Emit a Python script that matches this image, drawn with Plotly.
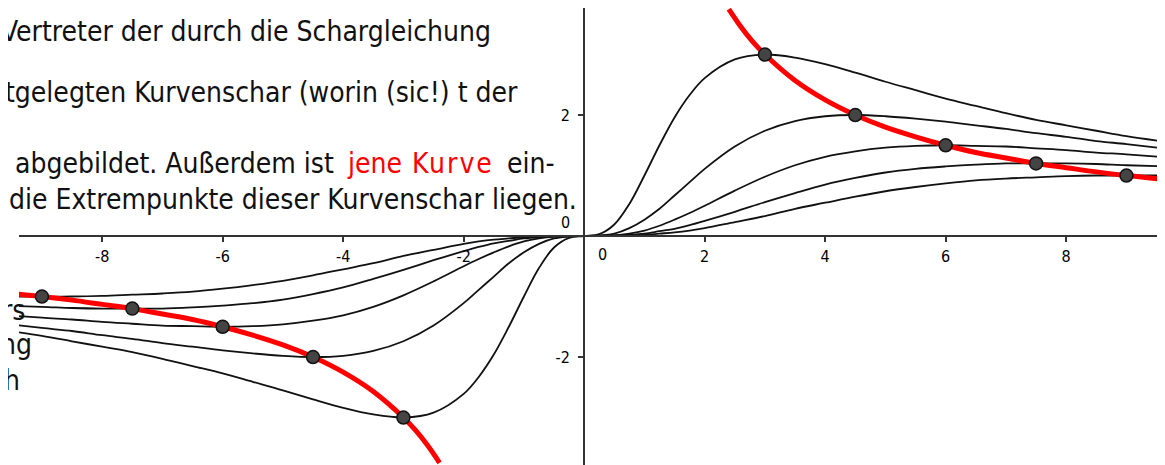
import plotly.graph_objects as go

# the page body keeps an 8 px margin, so the figure is drawn 8 px smaller
# and every page position below is shifted back by that offset
PAGE_OFF = 8
W, H = 1165 - PAGE_OFF, 465 - PAGE_OFF
ML = 19 - PAGE_OFF  # the drawing starts a little right of the page edge

# x positions shared by the five curves of the family
X = [-9.7, -9, -8.5, -8, -7.5, -7, -6.5, -6, -5.5, -5, -4.5, -4, -3.5, -3, -2.5, -2,
     -1.75, -1.5, -1.25, -1, -0.75, -0.5, -0.25, 0, 0.25, 0.5, 0.75, 1, 1.25, 1.5,
     1.75, 2, 2.5, 3, 3.5, 4, 4.5, 5, 5.5, 6, 6.5, 7, 7.5, 8, 8.5, 9, 9.7]

Y_T3 = [-1.55, -1.65, -1.74, -1.83, -1.92, -2.03, -2.15, -2.27, -2.41, -2.55, -2.70, -2.84,
        -2.95, -3.00, -2.92, -2.61, -2.33, -1.96, -1.50, -1.00, -0.53, -0.19, -0.03, 0,
        0.03, 0.19, 0.53, 1.00, 1.50, 1.96, 2.33, 2.61, 2.92, 3.00, 2.95, 2.84, 2.70,
        2.55, 2.41, 2.27, 2.15, 2.03, 1.92, 1.83, 1.74, 1.65, 1.55]
Y_T45 = [-1.44, -1.52, -1.57, -1.64, -1.70, -1.77, -1.83, -1.89, -1.94, -1.98, -2.00, -1.98,
         -1.90, -1.74, -1.48, -1.11, -0.89, -0.67, -0.45, -0.27, -0.13, -0.04, -0.01, 0,
         0.01, 0.04, 0.13, 0.27, 0.45, 0.67, 0.89, 1.11, 1.48, 1.74, 1.90, 1.98, 2.00,
         1.98, 1.94, 1.89, 1.83, 1.77, 1.70, 1.64, 1.57, 1.52, 1.44]
Y_T6 = [-1.30, -1.35, -1.38, -1.42, -1.45, -1.48, -1.49, -1.50, -1.49, -1.46, -1.40, -1.31,
        -1.17, -0.98, -0.75, -0.50, -0.38, -0.27, -0.17, -0.09, -0.04, -0.01, 0.00, 0,
        0.00, 0.01, 0.04, 0.09, 0.17, 0.27, 0.38, 0.50, 0.75, 0.98, 1.17, 1.31, 1.40,
        1.46, 1.49, 1.50, 1.49, 1.48, 1.45, 1.42, 1.38, 1.35, 1.30]
Y_T75 = [-1.15, -1.17, -1.19, -1.20, -1.20, -1.20, -1.18, -1.15, -1.11, -1.05, -0.96, -0.85,
         -0.71, -0.56, -0.40, -0.25, -0.18, -0.12, -0.08, -0.04, -0.02, -0.01, 0.00, 0,
         0.00, 0.01, 0.02, 0.04, 0.08, 0.12, 0.18, 0.25, 0.40, 0.56, 0.71, 0.85, 0.96,
         1.05, 1.11, 1.15, 1.18, 1.20, 1.20, 1.20, 1.19, 1.17, 1.15]
Y_T9 = [-1.00, -1.00, -1.00, -0.99, -0.97, -0.95, -0.92, -0.87, -0.81, -0.74, -0.65, -0.55,
        -0.45, -0.33, -0.23, -0.13, -0.09, -0.06, -0.04, -0.02, -0.01, 0.00, 0.00, 0,
        0.00, 0.00, 0.01, 0.02, 0.04, 0.06, 0.09, 0.13, 0.23, 0.33, 0.45, 0.55, 0.65,
        0.74, 0.81, 0.87, 0.92, 0.95, 0.97, 0.99, 1.00, 1.00, 1.00]
FAMILY = [Y_T3, Y_T45, Y_T6, Y_T75, Y_T9]

# curve through the extreme points (two branches)
RED_X = [-9.7, -9, -8.5, -8, -7.5, -7, -6.5, -6, -5.5, -5, -4.5, -4, -3.5, -3, -2.8, -2.6, -2.4,
         None, 2.4, 2.6, 2.8, 3, 3.5, 4, 4.5, 5, 5.5, 6, 6.5, 7, 7.5, 8, 8.5, 9, 9.7]
RED_Y = [-0.93, -1.00, -1.06, -1.13, -1.20, -1.29, -1.38, -1.50, -1.64, -1.80, -2.00, -2.25,
         -2.57, -3.00, -3.21, -3.46, -3.75,
         None, 3.75, 3.46, 3.21, 3.00, 2.57, 2.25, 2.00, 1.80, 1.64, 1.50, 1.38, 1.29, 1.20,
         1.13, 1.06, 1.00, 0.93]

EXT_X = [-9, -7.5, -6, -4.5, -3, 3, 4.5, 6, 7.5, 9]
EXT_Y = [-1, -1.2, -1.5, -2, -3, 3, 2, 1.5, 1.2, 1]

X_TICKS = [-8, -6, -4, -2, 2, 4, 6, 8]
X_TICKTEXT = ["-8", "-6", "-4", "-2", "2", "4", "6", "8"]
Y_TICKS = [-2, 2]
Y_TICKTEXT = ["-2", "2"]
X_RANGE = [-9.38, 9.64]
Y_RANGE = [-3.785, 3.769]

RED = "#ff0000"
INK = "#111111"
TEXT_FONT = "DejaVu Sans Condensed, Liberation Sans, Arial, sans-serif"

# text of the scanned page lying under the plot: (text, page x, page y, anchor, colour)
PAGE_TEXT = [
    ("Vertreter der durch die Schargleichung", -1, 32, "left", INK),
    ("tgelegten Kurvenschar (worin (sic!) t der", 3, 93, "left", INK),
    ("abgebildet. Außerdem ist", 13, 164, "left", INK),
    ("jene", 345, 164, "left", RED),
    ("<span style='letter-spacing:2px'>Kurve</span>", 410, 164, "left", RED),
    ("ein-", 557, 164, "right", INK),
    ("die Extrempunkte dieser Kurvenschar liegen.", 7, 199, "left", INK),
    ("rs", 27, 310, "right", INK),
    ("ng", 34, 344, "right", INK),
    ("h", 22, 380, "right", INK),
]


def page_to_paper(px, py):
    fx, fy = px - PAGE_OFF, py - PAGE_OFF
    return (fx - ML) / (W - ML), 1 - fy / H


fig = go.Figure()

for ys in FAMILY:
    fig.add_trace(go.Scatter(
        x=X, y=ys, mode="lines", line=dict(color=INK, width=1.8, shape="spline"),
        hoverinfo="skip", showlegend=False,
    ))

fig.add_trace(go.Scatter(
    x=RED_X, y=RED_Y, mode="lines", line=dict(color=RED, width=5, shape="spline"),
    connectgaps=False, hoverinfo="skip", showlegend=False,
))

fig.add_trace(go.Scatter(
    x=EXT_X, y=EXT_Y, mode="markers",
    marker=dict(size=13, color="#444444", line=dict(color=INK, width=1.5)),
    hoverinfo="skip", showlegend=False,
))

annotations = []
for text, px, py, anchor, color in PAGE_TEXT:
    ax, ay = page_to_paper(px, py)
    annotations.append(dict(
        text=text, x=ax, y=ay, xref="paper", yref="paper", xanchor=anchor, yanchor="middle",
        showarrow=False, font=dict(family=TEXT_FONT, size=28, color=color),
    ))

# the two zero labels sit beside the axes, as in the original drawing
annotations.append(dict(text="0", x=-0.31, y=0.22, xref="x", yref="y", showarrow=False,
                        font=dict(family=TEXT_FONT, size=16, color="#000000")))
annotations.append(dict(text="0", x=0.30, y=-0.31, xref="x", yref="y", showarrow=False,
                        font=dict(family=TEXT_FONT, size=16, color="#000000")))

axis_common = dict(
    showgrid=False, zeroline=False, showline=True, linecolor="#333333", linewidth=2,
    ticks="outside", ticklen=5, tickwidth=1.5, tickcolor="#333333",
    tickfont=dict(family=TEXT_FONT, size=16, color="#000000"), anchor="free",
)

fig.update_layout(
    width=W, height=H,
    margin=dict(l=ML, r=0, t=0, b=0),
    paper_bgcolor="white", plot_bgcolor="white",
    xaxis=dict(range=X_RANGE, tickvals=X_TICKS, ticktext=X_TICKTEXT, ticklabelstandoff=1,
               position=(0 - Y_RANGE[0]) / (Y_RANGE[1] - Y_RANGE[0]), **axis_common),
    yaxis=dict(range=Y_RANGE, tickvals=Y_TICKS, ticktext=Y_TICKTEXT, ticklabelstandoff=5,
               position=(0 - X_RANGE[0]) / (X_RANGE[1] - X_RANGE[0]), **axis_common),
    annotations=annotations,
)

fig.write_html("out.html")
